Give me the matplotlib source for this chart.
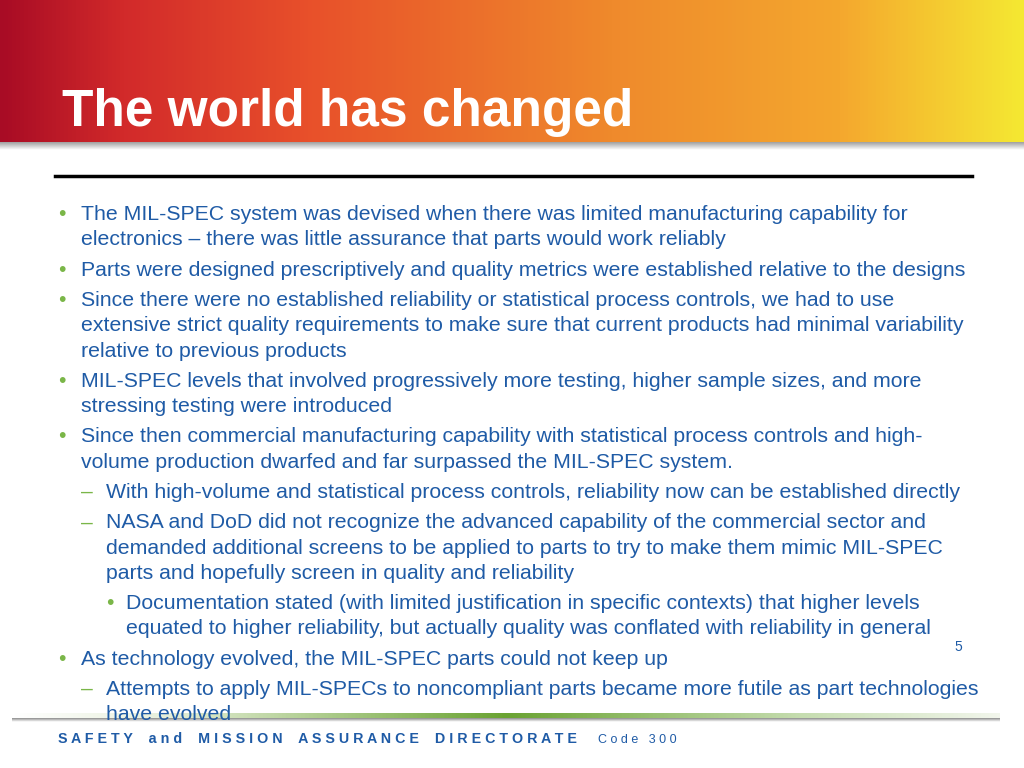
import numpy as np
import matplotlib
matplotlib.use("Agg")
import matplotlib.pyplot as plt
from matplotlib.colors import LinearSegmentedColormap

title = "The world has changed"
# (level, lines)
items = [
    (1, ["The MIL-SPEC system was devised when there was limited manufacturing capability for",
         "electronics \u2013 there was little assurance that parts would work reliably"]),
    (1, ["Parts were designed prescriptively and quality metrics were established relative to the designs"]),
    (1, ["Since there were no established reliability or statistical process controls, we had to use",
         "extensive strict quality requirements to make sure that current products had minimal variability",
         "relative to previous products"]),
    (1, ["MIL-SPEC levels that involved progressively more testing, higher sample sizes, and more",
         "stressing testing were introduced"]),
    (1, ["Since then commercial manufacturing capability with statistical process controls and high-",
         "volume production dwarfed and far surpassed the MIL-SPEC system."]),
    (2, ["With high-volume and statistical process controls, reliability now can be established directly"]),
    (2, ["NASA and DoD did not recognize the advanced capability of the commercial sector and",
         "demanded additional screens to be applied to parts to try to make them mimic MIL-SPEC",
         "parts and hopefully screen in quality and reliability"]),
    (3, ["Documentation stated (with limited justification in specific contexts) that higher levels",
         "equated to higher reliability, but actually quality was conflated with reliability in general"]),
    (1, ["As technology evolved, the MIL-SPEC parts could not keep up"]),
    (2, ["Attempts to apply MIL-SPECs to noncompliant parts became more futile as part technologies",
         "have evolved"]),
]
page_num = "5"
footer_main = "SAFETY and MISSION ASSURANCE DIRECTORATE"
footer_code = "Code 300"

plt.rcParams['font.family'] = ['Liberation Sans', 'DejaVu Sans']
fig = plt.figure(figsize=(10.24, 7.68), dpi=100)
ax = fig.add_axes([0, 0, 1, 1])
ax.set_xlim(0, 1024); ax.set_ylim(768, 0); ax.axis('off')

hcm = LinearSegmentedColormap.from_list('h', [(0, '#a80c25'), (0.12, '#d22a2a'), (0.3, '#e8502a'),
                                               (0.6, '#ef8a2c'), (0.82, '#f4a72e'), (1, '#f5e832')])
grad = np.linspace(0, 1, 512)[None, :]
ax.imshow(grad, cmap=hcm, extent=[0, 1024, 142, 0], aspect='auto', zorder=1)
sh = np.linspace(1, 0, 20)[:, None] * np.ones((1, 10))
ax.imshow(sh, cmap=LinearSegmentedColormap.from_list('s', ['white', '#a0a0a0']),
          extent=[0, 1024, 150, 142], aspect='auto', zorder=1)
ax.text(62, 126, title, color='white', fontsize=37, fontweight='bold', va='baseline', zorder=3)

ax.plot([55, 972], [176, 176], color='black', lw=2.5, zorder=3)

blue = '#1f5ba6'
green = '#7ab648'
fs = 15.3
y = 220
step = 25.3
for lvl, lines in items:
    if lvl == 1:
        mx, tx, mk = 58, 81, '\u2022'
    elif lvl == 2:
        mx, tx, mk = 81, 106, '\u2013'
    else:
        mx, tx, mk = 106, 126, '\u2022'
    ax.text(mx, y, mk, color=green, fontsize=fs, va='baseline', zorder=3)
    for ln in lines:
        ax.text(tx, y, ln, color=blue, fontsize=fs, va='baseline', zorder=3)
        y += step
    y += 5

ax.text(958, 651, page_num, color=blue, fontsize=10, ha='center', va='baseline', zorder=3)

gcm = LinearSegmentedColormap.from_list('g', [(0, '#ffffff'), (0.15, '#e8f0dc'), (0.5, '#6aa332'),
                                               (0.8, '#c6ddb0'), (1, '#f2f6ec')])
ax.imshow(grad, cmap=gcm, extent=[12, 1000, 718, 713], aspect='auto', zorder=2)
ax.imshow(np.linspace(0, 1, 10)[:, None] * np.ones((1, 10)),
          cmap=LinearSegmentedColormap.from_list('s2', ['#909090', '#ffffff']),
          extent=[12, 1000, 722, 718], aspect='auto', zorder=2)

ax.text(58, 743, ' '.join(footer_main).replace('   ', '    '), color=blue, fontsize=10.3,
        fontweight='bold', va='baseline', zorder=3)
ax.text(598, 743, ' '.join(footer_code), color=blue, fontsize=9, va='baseline', zorder=3)

fig.savefig('out.png', dpi=100)
